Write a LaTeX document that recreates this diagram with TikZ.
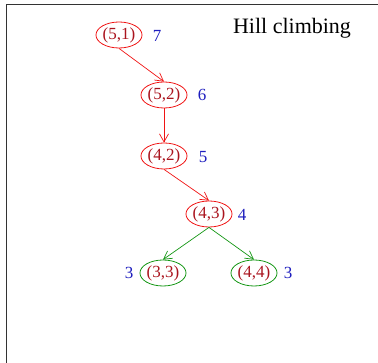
\documentclass[tikz,border=0pt]{standalone}
\usepackage{fontspec}
\setmainfont{Liberation Serif}
\usepackage{xcolor}
\usetikzlibrary{shapes.geometric, arrows.meta, positioning}
\definecolor{pathred}{RGB}{240, 20, 20}
\definecolor{labelred}{RGB}{170, 20, 30}
\definecolor{costblue}{RGB}{30, 30, 190}
\definecolor{leafgreen}{RGB}{20, 150, 20}

\begin{document}
\begin{tikzpicture}[x=1pt, y=1pt,
    state/.style={ellipse, draw=pathred, line width=0.8pt, inner sep=0pt,
        minimum width=46pt, minimum height=26pt, text=labelred,
        font=\fontsize{17}{20}\selectfont},
    leaf/.style={state, draw=leafgreen},
    cost/.style={text=costblue, font=\fontsize{17}{20}\selectfont},
    move/.style={-{Straight Barb[length=8pt, width=9pt]}, line width=0.7pt, pathred},
    branch/.style={move, leafgreen}]
    \useasboundingbox (0,0) rectangle (378,363);

    % Frame (only top and left edges visible)
    \draw[line width=1.6pt, black!80] (6.5,0) -- (6.5,358.5) -- (378,358.5);

    % Title
    \node[font=\fontsize{22}{26}\selectfont] (title) at (292,335) {Hill climbing};

    % States on the climbing path
    \node[state] (s51) at (119,328) {(5,1)};
    \node[state] (s52) at (164,268) {(5,2)};
    \node[state] (s42) at (164,207) {(4,2)};
    \node[state] (s43) at (209,149) {(4,3)};
    % Successors of the last state
    \node[leaf] (s33) at (163,90) {(3,3)};
    \node[leaf] (s44) at (254,90) {(4,4)};

    % Heuristic values
    \node[cost] (h51) at (157,327) {7};
    \node[cost] (h52) at (202,268) {6};
    \node[cost] (h42) at (203,206) {5};
    \node[cost] (h43) at (242,148) {4};
    \node[cost] (h33) at (129,90) {3};
    \node[cost] (h44) at (288,90) {3};

    % Moves
    \draw[move] (s51.south) -- (s52.north);
    \draw[move] (s52.south) -- (s42.north);
    \draw[move] (s42.south) -- (s43.north);
    \draw[branch] (s43.south) -- (s33.north);
    \draw[branch] (s43.south) -- (s44.north);

\end{tikzpicture}
\end{document}
